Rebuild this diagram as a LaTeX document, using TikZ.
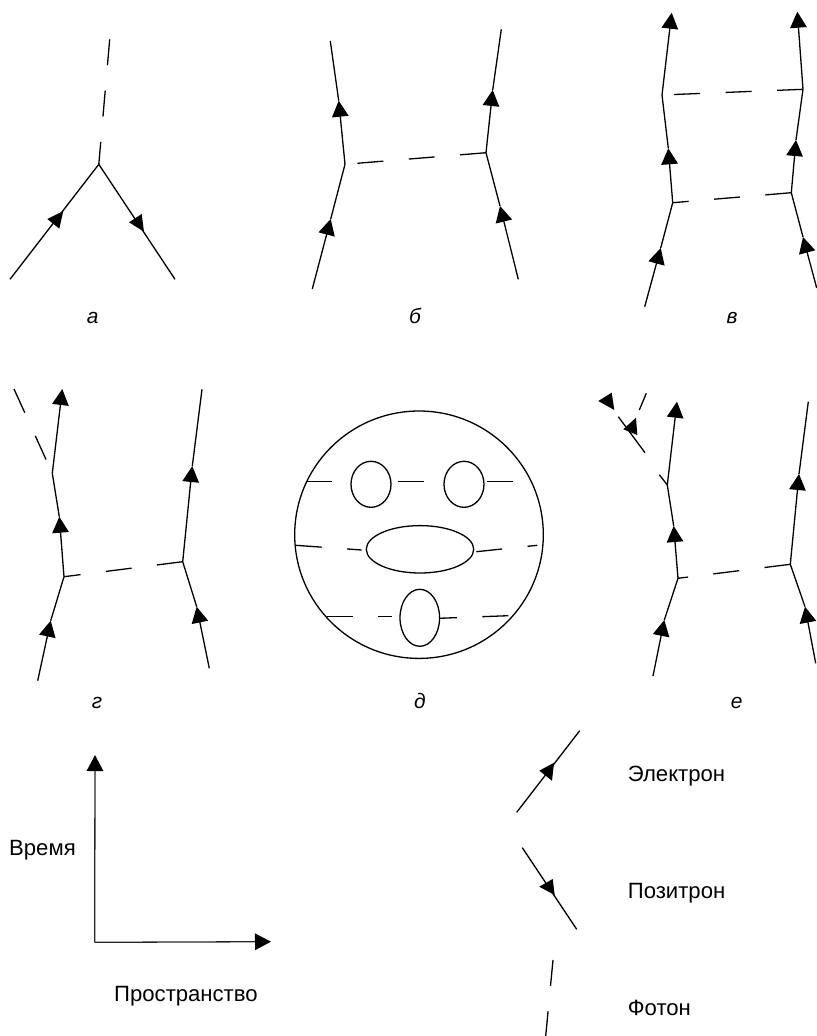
\documentclass[tikz,border=0pt]{standalone}
\usepackage{fontspec}
\setmainfont{Liberation Sans}
\usetikzlibrary{arrows.meta,shapes.geometric}
\tikzset{
  wire/.style={line width=1.3bp,line cap=butt},
  fermion/.style={wire,-{Triangle[length=16bp,width=16.5bp]}},
  photon/.style={wire,dash pattern=on 26bp off 25.5bp},
  head/.style={fill=black},
  axisline/.style={line width=1.3bp,black!85,-{Triangle[length=16bp,width=16.5bp,black]}},
  blob/.style={ellipse,draw,line width=1.3bp,inner sep=0pt,outer sep=0pt},
  caption/.style={font=\fontsize{21}{25}\selectfont\itshape,anchor=base,inner sep=0pt},
  legend/.style={font=\fontsize{22.2}{26}\selectfont,anchor=base west,inner sep=0pt,text=black},
}
\begin{document}
\begin{tikzpicture}[x=1bp,y=-1bp]
\useasboundingbox (0,0) rectangle (817,1036);
% --- a ---
\coordinate (a0) at (10,279.3);
\coordinate (av) at (98.8,164.3);
\coordinate (a1) at (175,279.3);
\coordinate (ap) at (109.7,39.3);
\draw[wire] (a0) -- (av) -- (a1);
\draw[photon] (ap) -- (av);
\fill[head] (47.3,219) -- (63.3,211) -- (59.3,228.7) -- cycle;
\fill[head] (129,222.3) -- (141.7,214) -- (144,231.7) -- cycle;
\node[caption] (la) at (92.7,323) {а};
% --- b ---
\coordinate (b0) at (312.3,289);
\coordinate (b1) at (330.7,219);
\coordinate (bv) at (345,164.3);
\coordinate (b2) at (338.7,100.7);
\coordinate (b3) at (330.3,41);
\coordinate (c0) at (518.3,279.3);
\coordinate (c1) at (500,206);
\coordinate (cv) at (486,152.7);
\coordinate (c2) at (492.7,90);
\coordinate (c3) at (501.3,29.3);
\draw[fermion] (b0) -- (b1);
\draw[wire] (b1) -- (bv);
\draw[fermion] (bv) -- (b2);
\draw[wire] (b2) -- (b3);
\draw[fermion] (c0) -- (c1);
\draw[wire] (c1) -- (cv);
\draw[fermion] (cv) -- (c2);
\draw[wire] (c2) -- (c3);
\draw[photon] (cv) -- (bv);
\node[caption] (lb) at (415,323) {б};
% --- v ---
\coordinate (d0) at (644.7,306.7);
\coordinate (d1) at (660.7,248);
\coordinate (dv) at (672.7,202.7);
\coordinate (d2) at (668.3,148.3);
\coordinate (dw) at (662,95);
\coordinate (d3) at (671.7,12.7);
\coordinate (e0) at (816.7,288);
\coordinate (e1) at (803,237);
\coordinate (ev) at (791.3,192.7);
\coordinate (e2) at (796,140);
\coordinate (ew) at (803,89.3);
\coordinate (e3) at (797.3,11.7);
\draw[fermion] (d0) -- (d1);
\draw[wire] (d1) -- (dv);
\draw[fermion] (dv) -- (d2);
\draw[wire] (d2) -- (dw);
\draw[fermion] (dw) -- (d3);
\draw[fermion] (e0) -- (e1);
\draw[wire] (e1) -- (ev);
\draw[fermion] (ev) -- (e2);
\draw[wire] (e2) -- (ew);
\draw[fermion] (ew) -- (e3);
\draw[photon] (ev) -- (dv);
\draw[photon] (ew) -- (dw);
\node[caption] (lv) at (732,323) {в};
% --- g ---
\coordinate (f0) at (37.7,680.7);
\coordinate (f1) at (50.7,620.7);
\coordinate (fv) at (64,576.7);
\coordinate (f2) at (59.3,516.7);
\coordinate (fw) at (52.3,473.3);
\coordinate (f3) at (62.3,389);
\coordinate (fp) at (14,389);
\coordinate (h0) at (209.3,668.3);
\coordinate (h1) at (196.7,606.7);
\coordinate (hv) at (182.7,561.7);
\coordinate (h2) at (192.3,466);
\coordinate (h3) at (202,389.3);
\draw[fermion] (f0) -- (f1);
\draw[wire] (f1) -- (fv);
\draw[fermion] (fv) -- (f2);
\draw[wire] (f2) -- (fw);
\draw[fermion] (fw) -- (f3);
\draw[fermion] (h0) -- (h1);
\draw[wire] (h1) -- (hv);
\draw[fermion] (hv) -- (h2);
\draw[wire] (h2) -- (h3);
\draw[photon] (hv) -- (fv);
\draw[photon] (fp) -- (fw);
\node[caption] (lg) at (97,708) {г};
% --- d ---
\node[blob,minimum width=248.6bp,minimum height=247.4bp] (big) at (419,534.7) {};
\node[blob,minimum width=40bp,minimum height=46bp] (eyeL) at (371,484.3) {};
\node[blob,minimum width=40bp,minimum height=46bp] (eyeR) at (464,484.3) {};
\node[blob,minimum width=107.4bp,minimum height=47.4bp] (mouth) at (420,549.3) {};
\node[blob,minimum width=39.6bp,minimum height=57bp] (chin) at (419.8,617.8) {};
\coordinate (t1a) at (306,481.7);   \coordinate (t1b) at (332.3,481.7);
\coordinate (t2a) at (398.3,481.7); \coordinate (t2b) at (424,481.7);
\coordinate (t3a) at (487,481.7);   \coordinate (t3b) at (512.7,481.7);
\draw[wire] (t1a) -- (t1b);
\draw[wire] (t2a) -- (t2b);
\draw[wire] (t3a) -- (t3b);
\coordinate (m1a) at (295.7,545.3); \coordinate (m1b) at (361.7,550);
\coordinate (m2a) at (476.3,551.7); \coordinate (m2b) at (537.3,545.3);
\draw[photon] (m1a) -- (m1b);
\draw[photon] (m2a) -- (m2b);
\coordinate (u1a) at (326.7,616.7); \coordinate (u1b) at (392.3,616.7);
\coordinate (u2a) at (508.3,615.7); \coordinate (u2b) at (439,618.3);
\draw[photon] (u1a) -- (u1b);
\draw[photon] (u2a) -- (u2b);
\node[caption] (ld) at (420,708) {д};
% --- e ---
\coordinate (i0) at (653,676);
\coordinate (i1) at (664.3,620);
\coordinate (iv) at (678,578.3);
\coordinate (i2) at (673.7,526);
\coordinate (iw) at (667.3,485);
\coordinate (i3) at (677,401.7);
\coordinate (j0) at (815.7,663.3);
\coordinate (j1) at (805,606.7);
\coordinate (jv) at (790.3,564.3);
\coordinate (j2) at (799,474);
\coordinate (j3) at (808.3,401.7);
\coordinate (k0) at (659.3,474.7);
\coordinate (k1) at (646.3,393.3);
\coordinate (k2) at (639.3,410);
\coordinate (n0) at (645,452.7);
\coordinate (n1) at (618.3,416.7);
\draw[fermion] (i0) -- (i1);
\draw[wire] (i1) -- (iv);
\draw[fermion] (iv) -- (i2);
\draw[wire] (i2) -- (iw);
\draw[fermion] (iw) -- (i3);
\draw[fermion] (j0) -- (j1);
\draw[wire] (j1) -- (jv);
\draw[fermion] (jv) -- (j2);
\draw[wire] (j2) -- (j3);
\draw[photon] (jv) -- (iv);
\draw[wire] (k0) -- (iw);
\draw[wire] (k1) -- (k2);
\draw[wire] (n0) -- (n1);
\fill[head] (623.3,429.3) -- (636,417.7) -- (637.3,435) -- cycle;
\fill[head] (598.3,401) -- (611.7,392.7) -- (614.3,410) -- cycle;
\node[caption] (le) at (736.7,708) {е};
% --- axes ---
\coordinate (o) at (94.7,942.3);
\coordinate (tt) at (95,755);
\coordinate (xx) at (271,941.7);
\draw[axisline] (o) -- (tt);
\draw[axisline] (o) -- (xx);
\node[legend] (time) at (9,855) {Время};
\node[legend] (space) at (114,1001.7) {Пространство};
% --- legend ---
\coordinate (q0) at (516.7,812.3);
\coordinate (q1) at (579.7,730.7);
\draw[wire] (q0) -- (q1);
\fill[head] (539.3,770.7) -- (554,762.7) -- (552,780.7) -- cycle;
\coordinate (r0) at (522.3,847.7);
\coordinate (r1) at (576.7,929.3);
\draw[wire] (r0) -- (r1);
\fill[head] (539.3,886.7) -- (552.7,879) -- (554.7,895) -- cycle;
\coordinate (s0) at (553,960);
\coordinate (s1) at (545.7,1036);
\draw[photon] (s0) -- (s1);
\node[legend] (el) at (627.7,781.7) {Электрон};
\node[legend] (po) at (627.7,898.3) {Позитрон};
\node[legend] (ph) at (627.7,1015) {Фотон};
\end{tikzpicture}
\end{document}
